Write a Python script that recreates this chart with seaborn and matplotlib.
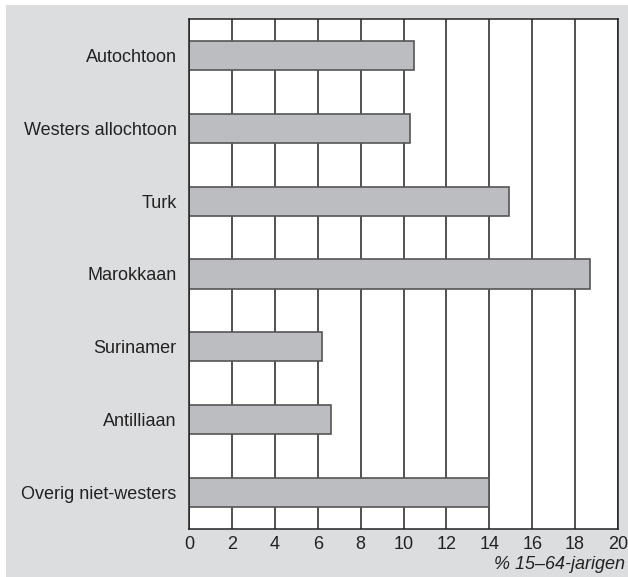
import matplotlib
matplotlib.use("Agg")
import matplotlib.pyplot as plt
import seaborn as sns
import pandas as pd

# groups and percentages of 15-64 year olds
groups = ["Autochtoon", "Westers allochtoon", "Turk", "Marokkaan",
          "Surinamer", "Antilliaan", "Overig niet-westers"]
values = [10.5, 10.3, 14.9, 18.7, 6.2, 6.6, 14.0]
xticks = [0, 2, 4, 6, 8, 10, 12, 14, 16, 18, 20]

df = pd.DataFrame({"groep": groups, "pct": values})

sns.set_style("white")
plt.rcParams['font.family'] = ['Liberation Sans', 'DejaVu Sans']

bg = "#dcdddf"
fig = plt.figure(figsize=(6.28, 5.77), dpi=100, facecolor="white")
# grey panel with thin white border
fig.patches.append(plt.Rectangle((6 / 628, 0), 1, 1 - 5 / 577, transform=fig.transFigure,
                                 facecolor=bg, edgecolor="none", zorder=-10))
ax = fig.add_axes([189 / 628, 48 / 577, 429 / 628, 510 / 577])
ax.set_facecolor("white")

sns.barplot(data=df, x="pct", y="groep", orient="h", color="#bcbdc0",
            edgecolor="#555555", linewidth=1.2, width=0.4, saturation=1, ax=ax)

ax.set_xlim(0, 20)
ax.set_ylim(6.5, -0.5)
ax.set_xticks(xticks)
ax.set_xticklabels([str(t) for t in xticks])
ax.xaxis.grid(True, color="#222222", linewidth=1.1)
ax.yaxis.grid(False)
ax.set_axisbelow(True)
for s in ax.spines.values():
    s.set_color("#222222")
    s.set_linewidth(1.1)
ax.tick_params(axis="both", length=0, labelsize=13, colors="#222222")
ax.tick_params(axis="x", pad=5)
ax.tick_params(axis="y", pad=9)
ax.set_ylabel("")
ax.set_xlabel("% 15–64-jarigen", fontsize=13, fontstyle="italic", color="#222222", loc="right")
ax.xaxis.set_label_coords(1.016, -0.052)

fig.savefig("out.png", dpi=100, facecolor=fig.get_facecolor())
